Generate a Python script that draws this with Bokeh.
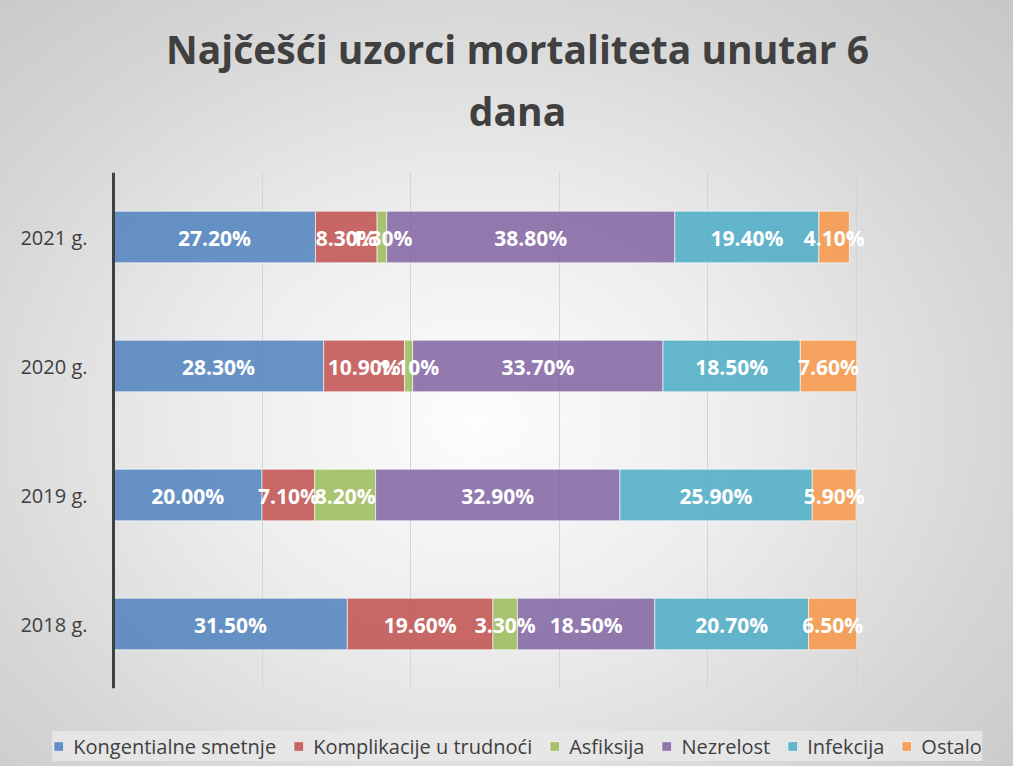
from bokeh.plotting import figure
from bokeh.models import (ColumnDataSource, Legend, LegendItem, LabelSet, Title,
                          Range1d, FactorRange, SingleIntervalTicker)
from bokeh.core.properties import value
from bokeh.embed import file_html
from bokeh.resources import INLINE

# ---------------- data ----------------
years = ["2018 g.", "2019 g.", "2020 g.", "2021 g."]
series = ["Kongentialne smetnje", "Komplikacije u trudnoći", "Asfiksija",
          "Nezrelost", "Infekcija", "Ostalo"]
kongentialne = [31.5, 20.0, 28.3, 27.2]
komplikacije = [19.6, 7.1, 10.9, 8.3]
asfiksija = [3.3, 8.2, 1.1, 1.3]
nezrelost = [18.5, 32.9, 33.7, 38.8]
infekcija = [20.7, 25.9, 18.5, 19.4]
ostalo = [6.5, 5.9, 7.6, 4.1]
colors = ["#4F81BD", "#C0504D", "#9BBB59", "#8064A2", "#4BACC6", "#F79646"]
title_lines = ["Najčešći uzorci mortaliteta unutar 6", "dana"]

values = [kongentialne, komplikacije, asfiksija, nezrelost, infekcija, ostalo]
keys = ["s%d" % i for i in range(len(series))]
data = {"year": years}
for k, v in zip(keys, values):
    data[k] = v
source = ColumnDataSource(data)

# ---------------- figure ----------------
p = figure(width=1013, height=766, frame_width=992, frame_height=516,
           width_policy="fixed", height_policy="fixed",
           y_range=FactorRange(*years), x_range=Range1d(-12.39, 121.21),
           output_backend="svg", toolbar_location=None,
           min_border_left=21, min_border_right=0, min_border_top=172, min_border_bottom=78)
p.background_fill_alpha = 0
p.border_fill_alpha = 0
p.outline_line_color = None
p.styles = {"background": "radial-gradient(ellipse 75% 80% at 47% 55%, #fdfdfd 0%, #ededed 35%, #d6d6d6 70%, #c6c6c6 100%)"}

renderers = p.hbar_stack(keys, y="year", height=0.4, color=colors, source=source,
                         fill_alpha=0.85, line_color="white", line_alpha=0.6, line_width=1)

# data labels, centred in each segment
lx, ly, lt = [], [], []
for i, y in enumerate(years):
    left = 0.0
    for v in values:
        lx.append(left + v[i] / 2.0)
        ly.append(y)
        lt.append("%.2f%%" % v[i])
        left += v[i]
lsrc = ColumnDataSource(dict(x=lx, y=ly, t=lt))
p.add_layout(LabelSet(x="x", y="y", text="t", source=lsrc, text_align="center",
                      text_baseline="middle", text_color="white",
                      text_font=value("Open Sans"), text_font_style="bold",
                      text_font_size="21px", y_offset=-1))

# axes & grid
p.xaxis.visible = False
p.xaxis.ticker = SingleIntervalTicker(interval=20)
p.xgrid.grid_line_color = "#d4d4d4"
p.xgrid.grid_line_width = 1
p.ygrid.grid_line_color = None

ax = p.yaxis[0]
ax.fixed_location = 0
ax.axis_line_color = "#404040"
ax.axis_line_width = 3
ax.major_tick_line_color = None
ax.minor_tick_line_color = None
ax.major_label_standoff = 20
ax.major_label_text_font = "Open Sans"
ax.major_label_text_font_size = "20px"
ax.major_label_text_color = "#404040"

# title: two centred lines
t2 = Title(text=title_lines[1], align="center", vertical_align="top", text_font="Open Sans",
           text_font_style="bold", text_font_size="39px", text_color="#404040", standoff=67)
t1 = Title(text=title_lines[0], align="center", text_font="Open Sans",
           text_font_style="bold", text_font_size="39px", text_color="#404040", standoff=0)
try:
    t1.standoff = -48
except Exception:
    t1.standoff = 0
p.add_layout(t2, "above")
p.add_layout(t1, "above")

# legend
legend = Legend(items=[LegendItem(label=s, renderers=[r]) for s, r in zip(series, renderers)],
                orientation="horizontal", location="bottom_center",
                label_text_font="Open Sans", label_text_font_size="20px",
                label_text_color="#404040", glyph_width=12, glyph_height=12,
                label_height=30, label_standoff=9, spacing=16, padding=7, margin=5,
                background_fill_color="#e8e8e8", background_fill_alpha=0.85,
                border_line_color=None)
p.add_layout(legend, "below")

open("out.html", "w").write(file_html(p, INLINE))
